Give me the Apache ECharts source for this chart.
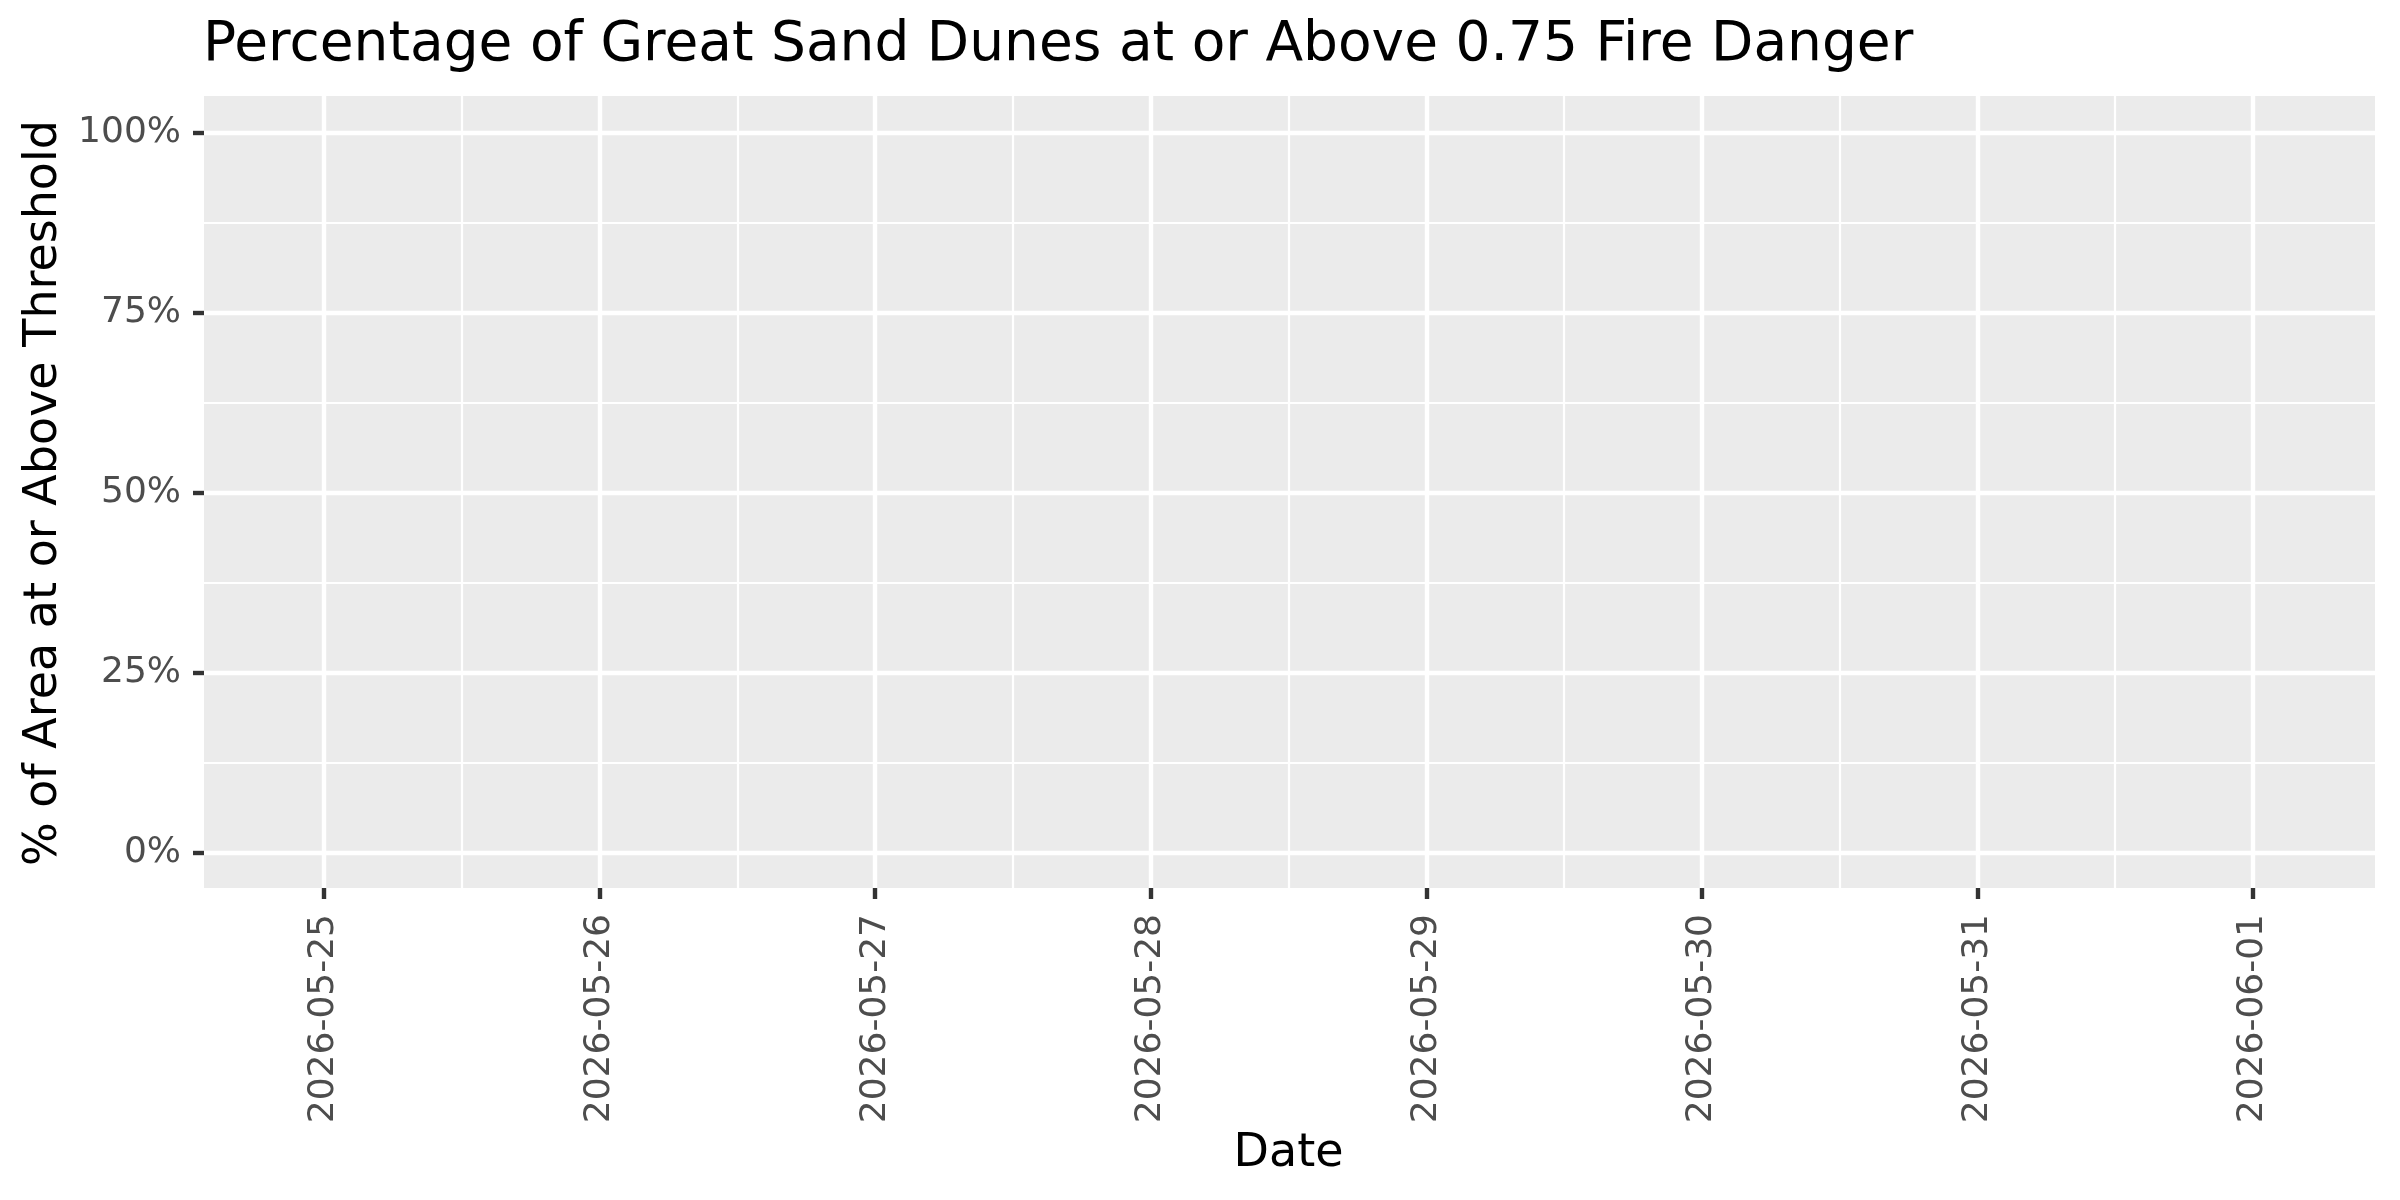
<!DOCTYPE html>
<html>
<head>
<meta charset="utf-8">
<script src="https://cdn.jsdelivr.net/npm/echarts@6/dist/echarts.min.js"></script>
<style>
  html, body { margin: 0; padding: 0; background: #fff; }
  #chart { width: 2400px; height: 1200px; }
</style>
</head>
<body>
<div id="chart"></div>
<script>
// forecast days shown on the x axis
var dates = ['2026-05-25', '2026-05-26', '2026-05-27', '2026-05-28',
             '2026-05-29', '2026-05-30', '2026-05-31', '2026-06-01'];
// % of area at or above threshold (nothing drawn in the picture)
var pctAbove = [];
var yTicks = [0, 25, 50, 75, 100];

var FONT = 'DejaVu Sans';
var panel = { left: 204, right: 25, top: 96, bottom: 312 };

var myChart = echarts.init(document.getElementById('chart'));

var hidden = { show: false };
var option = {
    backgroundColor: '#fff',
    animation: false,
    title: {
        text: 'Percentage of Great Sand Dunes at or Above 0.75 Fire Danger',
        left: panel.left - 6,
        top: 13,
        textStyle: { fontFamily: FONT, fontSize: 55, fontWeight: 'normal', color: '#000' }
    },
    grid: [
        // panel background
        { left: panel.left, right: panel.right, top: panel.top, bottom: panel.bottom,
          show: true, backgroundColor: '#EBEBEB', borderWidth: 0 },
        // horizontal grid lines, 0..100 %
        { left: panel.left, right: panel.right, top: 133, bottom: 1200 - 853 },
        // vertical grid lines, first to last day
        { left: 324, right: 2400 - 2253, top: panel.top, bottom: panel.bottom }
    ],
    xAxis: [
        { gridIndex: 0, type: 'value', min: 0, max: 1, axisLine: hidden, axisTick: hidden, axisLabel: hidden, splitLine: hidden },
        { gridIndex: 1, type: 'value', min: 0, max: 1, axisLine: hidden, axisTick: hidden, axisLabel: hidden, splitLine: hidden },
        { gridIndex: 2, type: 'value', min: 0, max: dates.length - 1, interval: 0.5, position: 'top',
          axisLine: hidden, axisTick: hidden, axisLabel: hidden,
          splitLine: { show: true, lineStyle: { color: '#fff', width: 2.2 } } },
        { gridIndex: 2, type: 'value', min: 0, max: dates.length - 1, interval: 1, position: 'bottom',
          name: 'Date', nameLocation: 'middle', nameGap: 236,
          nameTextStyle: { fontFamily: FONT, fontSize: 46, color: '#000' },
          axisLine: hidden,
          axisTick: { show: true, inside: false, length: 11, lineStyle: { color: '#333', width: 4.4 } },
          axisLabel: { show: true, rotate: 90, margin: 26, fontFamily: FONT, fontSize: 36, color: '#4D4D4D',
                       padding: [12, 0, 0, 0],
                       formatter: function (v) { return dates[Math.round(v)] || ''; } },
          splitLine: { show: true, lineStyle: { color: '#fff', width: 4.4 } } }
    ],
    yAxis: [
        { gridIndex: 0, type: 'value', min: 0, max: 1, axisLine: hidden, axisTick: hidden, axisLabel: hidden, splitLine: hidden },
        { gridIndex: 1, type: 'value', min: 0, max: 100, interval: 12.5, position: 'right',
          axisLine: hidden, axisTick: hidden, axisLabel: hidden,
          splitLine: { show: true, lineStyle: { color: '#fff', width: 2.2 } } },
        { gridIndex: 1, type: 'value', min: yTicks[0], max: yTicks[yTicks.length - 1], interval: 25, position: 'left',
          name: '% of Area at or Above Threshold', nameLocation: 'middle', nameGap: 136,
          nameTextStyle: { fontFamily: FONT, fontSize: 46, color: '#000' },
          axisLine: hidden,
          axisTick: { show: true, inside: false, length: 11, lineStyle: { color: '#333', width: 4.4 } },
          axisLabel: { show: true, margin: 23, fontFamily: FONT, fontSize: 36, color: '#4D4D4D',
                       formatter: function (v) { return v + '%'; } },
          splitLine: { show: true, lineStyle: { color: '#fff', width: 4.4 } } },
        { gridIndex: 2, type: 'value', min: -5, max: 105, axisLine: hidden, axisTick: hidden, axisLabel: hidden, splitLine: hidden }
    ],
    series: [
        {
            type: 'line',
            xAxisIndex: 3,
            yAxisIndex: 3,
            showSymbol: false,
            lineStyle: { color: '#000', width: 2 },
            data: pctAbove.map(function (v, i) { return [i, v]; })
        }
    ]
};
myChart.setOption(option);
</script>
</body>
</html>
